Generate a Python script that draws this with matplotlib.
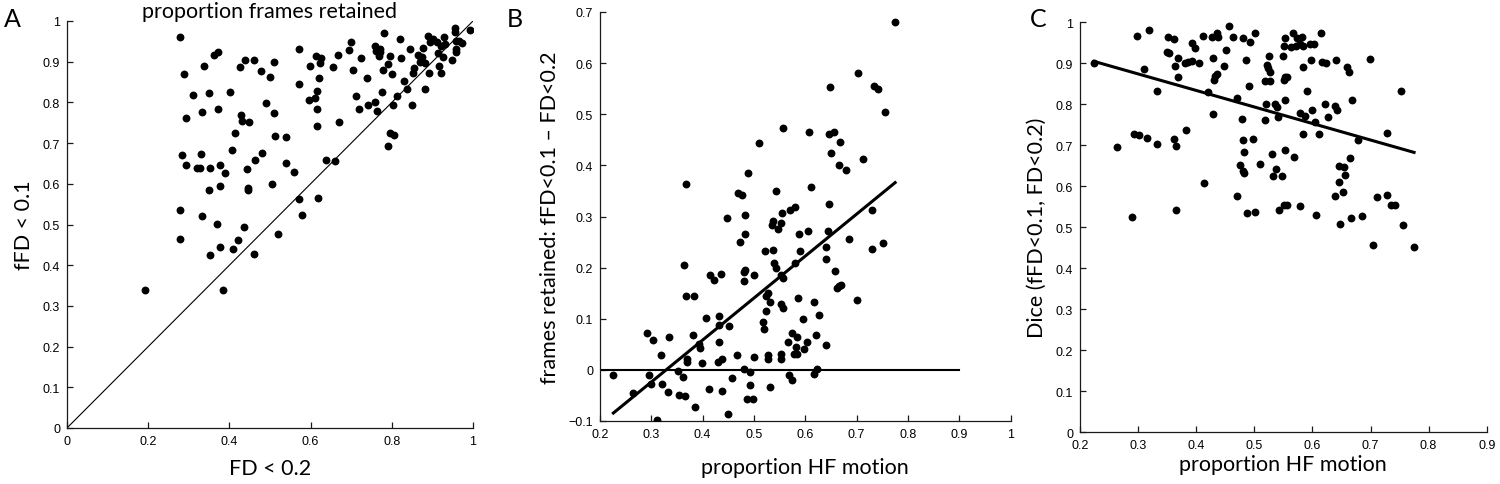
import numpy as np
import matplotlib
matplotlib.use("Agg")
import matplotlib.pyplot as plt
from matplotlib.ticker import FuncFormatter

# ---------------- Panel A data: proportion frames retained ----------------
a_fd02 = [0.279, 0.289, 0.337, 0.362, 0.372, 0.310, 0.350, 0.401, 0.332, 0.372,
          0.294, 0.427, 0.439, 0.460, 0.478, 0.500, 0.509, 0.428, 0.430, 0.449,
          0.489, 0.509, 0.414, 0.512, 0.540, 0.407, 0.329, 0.283, 0.294, 0.321,
          0.327, 0.351, 0.378, 0.389, 0.443, 0.463, 0.480, 0.349, 0.376, 0.445,
          0.445, 0.504, 0.540, 0.558, 0.279, 0.333, 0.369, 0.279, 0.353, 0.378,
          0.435, 0.420, 0.409, 0.460, 0.519, 0.193, 0.384, 0.571, 0.579, 0.617,
          0.638, 0.660, 0.571, 0.572, 0.599, 0.595, 0.612, 0.616, 0.616, 0.615,
          0.620, 0.614, 0.626, 0.624, 0.654, 0.667, 0.671, 0.695, 0.700, 0.704,
          0.723, 0.713, 0.719, 0.738, 0.741, 0.758, 0.764, 0.758, 0.762, 0.770,
          0.768, 0.772, 0.781, 0.779, 0.776, 0.791, 0.796, 0.800, 0.802, 0.796,
          0.805, 0.791, 0.813, 0.819, 0.822, 0.831, 0.837, 0.850, 0.845, 0.853,
          0.855, 0.865, 0.869, 0.875, 0.878, 0.871, 0.883, 0.881, 0.889, 0.895,
          0.901, 0.892, 0.912, 0.915, 0.920, 0.917, 0.922, 0.925, 0.929, 0.931,
          0.948, 0.955, 0.956, 0.957, 0.959, 0.965, 0.974, 0.993, 0.958]
a_ffd01 = [0.961, 0.871, 0.890, 0.917, 0.923, 0.817, 0.822, 0.825, 0.777, 0.785,
           0.761, 0.887, 0.905, 0.903, 0.877, 0.863, 0.900, 0.769, 0.755, 0.753,
           0.798, 0.775, 0.726, 0.718, 0.715, 0.684, 0.674, 0.670, 0.645, 0.640,
           0.640, 0.640, 0.647, 0.626, 0.636, 0.658, 0.675, 0.585, 0.595, 0.590,
           0.585, 0.600, 0.650, 0.628, 0.535, 0.520, 0.502, 0.465, 0.425, 0.445,
           0.495, 0.461, 0.440, 0.427, 0.477, 0.339, 0.339, 0.563, 0.524, 0.565,
           0.658, 0.655, 0.930, 0.845, 0.890, 0.807, 0.812, 0.829, 0.784, 0.743,
           0.860, 0.913, 0.910, 0.897, 0.888, 0.917, 0.751, 0.928, 0.948, 0.880,
           0.908, 0.816, 0.785, 0.859, 0.794, 0.800, 0.778, 0.938, 0.926, 0.931,
           0.913, 0.923, 0.970, 0.880, 0.826, 0.894, 0.913, 0.869, 0.793, 0.725,
           0.719, 0.694, 0.815, 0.956, 0.910, 0.853, 0.833, 0.794, 0.930, 0.872,
           0.885, 0.917, 0.900, 0.911, 0.933, 0.907, 0.898, 0.832, 0.964, 0.949,
           0.956, 0.872, 0.948, 0.921, 0.939, 0.890, 0.872, 0.911, 0.961, 0.944,
           0.905, 0.983, 0.972, 0.951, 0.925, 0.952, 0.945, 0.978, 0.931]

# ---------------- Panel B data ----------------
b_hf = [0.226, 0.265, 0.291, 0.295, 0.303, 0.300, 0.312, 0.318, 0.320, 0.334,
        0.333, 0.351, 0.354, 0.362, 0.366, 0.367, 0.364, 0.368, 0.370, 0.370,
        0.384, 0.382, 0.385, 0.393, 0.394, 0.399, 0.406, 0.413, 0.414, 0.422,
        0.429, 0.432, 0.432, 0.432, 0.435, 0.438, 0.438, 0.447, 0.450, 0.452,
        0.458, 0.466, 0.472, 0.469, 0.476, 0.482, 0.482, 0.481, 0.483, 0.481,
        0.481, 0.488, 0.486, 0.492, 0.493, 0.499, 0.501, 0.501, 0.510, 0.518,
        0.519, 0.522, 0.523, 0.523, 0.527, 0.528, 0.528, 0.532, 0.532, 0.536,
        0.537, 0.538, 0.539, 0.542, 0.543, 0.547, 0.553, 0.555, 0.556, 0.553,
        0.556, 0.553, 0.556, 0.552, 0.552, 0.566, 0.568, 0.570, 0.574, 0.575,
        0.578, 0.579, 0.579, 0.582, 0.583, 0.584, 0.585, 0.587, 0.589, 0.596,
        0.598, 0.603, 0.605, 0.607, 0.612, 0.616, 0.617, 0.621, 0.623, 0.627,
        0.640, 0.641, 0.644, 0.641, 0.646, 0.648, 0.646, 0.656, 0.651, 0.667,
        0.665, 0.679, 0.657, 0.662, 0.666, 0.669, 0.685, 0.700, 0.703, 0.712,
        0.729, 0.729, 0.734, 0.741, 0.756, 0.752, 0.775]
b_diff = [-0.010, -0.045, 0.072, -0.010, 0.059, -0.028, -0.099, 0.030, -0.028, 0.065,
          -0.043, -0.003, -0.049, -0.014, -0.052, 0.364, 0.206, 0.145, 0.022, 0.016,
          0.144, 0.068, -0.073, 0.051, 0.042, 0.013, 0.101, -0.037, 0.185, 0.175,
          0.015, 0.106, 0.087, 0.054, 0.188, 0.021, -0.042, 0.298, -0.087, 0.085,
          -0.016, 0.029, 0.251, 0.346, 0.343, 0.302, 0.266, 0.191, 0.195, 0.173,
          0.001, 0.385, -0.056, -0.005, -0.030, -0.056, 0.185, 0.025, 0.443, 0.094,
          0.080, 0.232, 0.115, 0.145, 0.151, 0.029, 0.021, 0.132, -0.034, 0.284,
          0.292, 0.235, 0.210, 0.199, 0.350, 0.275, 0.287, 0.307, 0.473, 0.185,
          0.179, 0.128, 0.121, 0.032, 0.021, 0.054, -0.011, 0.313, -0.020, 0.073,
          0.032, 0.318, 0.210, 0.044, 0.065, 0.032, 0.140, 0.265, 0.233, 0.100,
          0.040, 0.055, 0.272, 0.465, 0.358, -0.008, 0.133, 0.068, 0.001, 0.108,
          0.240, 0.217, 0.272, 0.048, 0.325, 0.554, 0.461, 0.466, 0.424, 0.445,
          0.401, 0.390, 0.194, 0.160, 0.164, 0.166, 0.256, 0.137, 0.581, 0.413,
          0.313, 0.236, 0.556, 0.550, 0.505, 0.248, 0.680]
b_fit = (0.821, -0.270)   # slope, intercept of regression line
b_zero_range = (0.2, 0.9)

# ---------------- Panel C data ----------------
c_hf = [0.224, 0.263, 0.290, 0.293, 0.302, 0.298, 0.310, 0.316, 0.319, 0.332,
        0.333, 0.349, 0.353, 0.352, 0.361, 0.362, 0.364, 0.365, 0.366, 0.368,
        0.369, 0.382, 0.381, 0.386, 0.392, 0.392, 0.398, 0.405, 0.412, 0.413,
        0.421, 0.427, 0.429, 0.431, 0.433, 0.435, 0.436, 0.437, 0.429, 0.448,
        0.451, 0.456, 0.464, 0.471, 0.470, 0.475, 0.480, 0.479, 0.480, 0.481,
        0.482, 0.483, 0.486, 0.487, 0.491, 0.493, 0.498, 0.501, 0.501, 0.510,
        0.518, 0.518, 0.520, 0.521, 0.524, 0.526, 0.527, 0.527, 0.530, 0.533,
        0.536, 0.538, 0.539, 0.541, 0.543, 0.547, 0.550, 0.551, 0.552, 0.551,
        0.553, 0.552, 0.553, 0.551, 0.556, 0.557, 0.564, 0.566, 0.568, 0.571,
        0.574, 0.578, 0.579, 0.578, 0.582, 0.583, 0.583, 0.583, 0.587, 0.590,
        0.596, 0.597, 0.599, 0.603, 0.604, 0.606, 0.612, 0.615, 0.617, 0.621,
        0.624, 0.627, 0.640, 0.639, 0.642, 0.639, 0.645, 0.646, 0.648, 0.652,
        0.655, 0.656, 0.659, 0.663, 0.665, 0.668, 0.666, 0.679, 0.685, 0.699,
        0.704, 0.712, 0.729, 0.729, 0.735, 0.742, 0.752, 0.756, 0.775]
c_dice = [0.900, 0.697, 0.526, 0.728, 0.724, 0.967, 0.885, 0.719, 0.981, 0.833,
          0.703, 0.927, 0.925, 0.963, 0.959, 0.715, 0.893, 0.698, 0.542, 0.867,
          0.912, 0.737, 0.901, 0.902, 0.905, 0.950, 0.937, 0.901, 0.967, 0.609,
          0.829, 0.965, 0.914, 0.859, 0.868, 0.875, 0.975, 0.963, 0.776, 0.894,
          0.933, 0.990, 0.963, 0.815, 0.577, 0.652, 0.962, 0.764, 0.713, 0.638,
          0.632, 0.683, 0.909, 0.534, 0.844, 0.951, 0.715, 0.974, 0.537, 0.655,
          0.761, 0.858, 0.801, 0.896, 0.888, 0.919, 0.856, 0.880, 0.680, 0.626,
          0.801, 0.642, 0.794, 0.770, 0.542, 0.626, 0.919, 0.943, 0.961, 0.859,
          0.867, 0.811, 0.689, 0.555, 0.555, 0.867, 0.939, 0.973, 0.672, 0.943,
          0.961, 0.946, 0.778, 0.551, 0.963, 0.943, 0.890, 0.728, 0.772, 0.833,
          0.946, 0.909, 0.785, 0.946, 0.756, 0.530, 0.728, 0.975, 0.904, 0.800,
          0.900, 0.770, 0.909, 0.795, 0.785, 0.576, 0.650, 0.610, 0.508, 0.585,
          0.648, 0.628, 0.890, 0.878, 0.668, 0.811, 0.523, 0.713, 0.528, 0.911,
          0.458, 0.575, 0.730, 0.579, 0.555, 0.555, 0.832, 0.506, 0.451]
c_fit = (-0.403, 0.995)   # slope, intercept of regression line

# ---------------- Styling ----------------
W, H = 1500, 485
fig = plt.figure(figsize=(W / 100, H / 100), dpi=100)

TICK_FAMILY = ["Liberation Sans", "DejaVu Sans"]
TICK_SIZE = 9
label_font = ["Lato", "DejaVu Sans"]
LABEL_SIZE = 15.5
DOT = 32
AXC = "#1a1a1a"


def px_axes(left, top, right, bottom):
    return fig.add_axes([left / W, 1 - bottom / H, (right - left) / W, (bottom - top) / H])


def style(ax):
    for s in ("top", "right"):
        ax.spines[s].set_visible(False)
    for s in ("left", "bottom"):
        ax.spines[s].set_linewidth(0.9)
        ax.spines[s].set_color(AXC)
    ax.tick_params(direction="in", length=4, width=0.9, color=AXC, pad=5,
                   labelsize=TICK_SIZE)
    for lab in ax.get_xticklabels() + ax.get_yticklabels():
        lab.set_family(TICK_FAMILY)
    fmt = FuncFormatter(lambda v, p: ("%g" % round(v, 3)).replace("-", "\u2212"))
    ax.xaxis.set_major_formatter(fmt)
    ax.yaxis.set_major_formatter(fmt)


# ---- Panel A ----
axA = px_axes(67, 22, 473, 429)
axA.scatter(a_fd02, a_ffd01, s=DOT, c="black", linewidths=0, zorder=3)
axA.plot([0, 1], [0, 1], color="black", lw=0.8)
axA.set_xlim(0, 1)
axA.set_ylim(0, 1)
axA.set_xticks(np.arange(0, 1.01, 0.2))
axA.set_yticks(np.arange(0, 1.01, 0.1))
style(axA)
axA.set_xlabel("FD < 0.2", family=label_font, size=LABEL_SIZE, labelpad=8)
axA.set_ylabel("fFD < 0.1", family=label_font, size=LABEL_SIZE, labelpad=6)
axA.set_title("proportion frames retained", family=label_font, size=LABEL_SIZE, pad=1)

# ---- Panel B ----
axB = px_axes(600, 13, 1010.6, 422)
axB.scatter(b_hf, b_diff, s=DOT, c="black", linewidths=0, zorder=3)
axB.plot(b_zero_range, [0, 0], color="black", lw=1.5)
xb = np.array([min(b_hf), max(b_hf)])
axB.plot(xb, b_fit[0] * xb + b_fit[1], color="black", lw=2.2)
axB.set_xlim(0.2, 1.0)
axB.set_ylim(-0.1, 0.7)
axB.set_xticks(np.arange(0.2, 1.001, 0.1))
axB.set_yticks(np.arange(-0.1, 0.701, 0.1))
style(axB)
axB.set_xlabel("proportion HF motion", family=label_font, size=LABEL_SIZE, labelpad=12)
axB.set_ylabel("frames retained: fFD<0.1 \u2013 FD<0.2", family=label_font, size=LABEL_SIZE, labelpad=6)

# ---- Panel C ----
axC = px_axes(1080, 23.3, 1486.7, 433.3)
axC.scatter(c_hf, c_dice, s=DOT, c="black", linewidths=0, zorder=3)
xc = np.array([min(c_hf), max(c_hf)])
axC.plot(xc, c_fit[0] * xc + c_fit[1], color="black", lw=2.2)
axC.set_xlim(0.2, 0.9)
axC.set_ylim(0, 1)
axC.set_xticks(np.arange(0.2, 0.901, 0.1))
axC.set_yticks(np.arange(0, 1.01, 0.1))
style(axC)
axC.set_xlabel("proportion HF motion", family=label_font, size=LABEL_SIZE, labelpad=2)
axC.set_ylabel("Dice (fFD<0.1, FD<0.2)", family=label_font, size=LABEL_SIZE, labelpad=6)

# ---- Panel letters ----
for letter, xpx in (("A", 4), ("B", 507), ("C", 1030)):
    fig.text(xpx / W, 1 - 27 / H, letter, family=label_font, size=18,
             ha="left", va="baseline", color="black")

fig.savefig("out.png", dpi=100)
